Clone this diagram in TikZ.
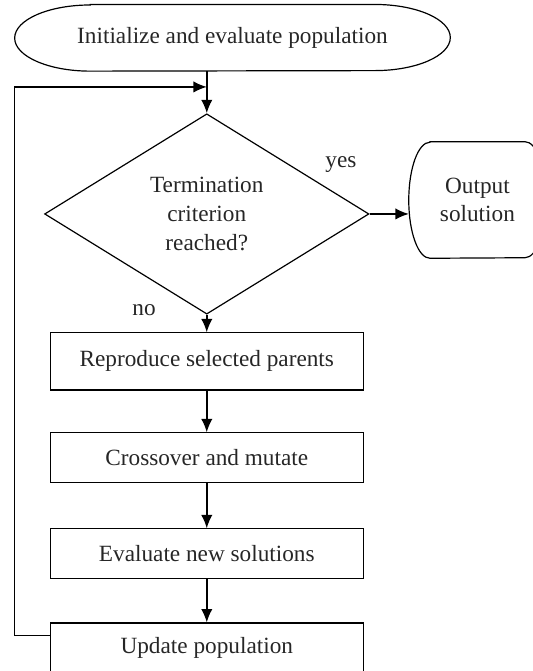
\documentclass[tikz,border=0pt]{standalone}
\usepackage{fontspec}
\setmainfont{Liberation Serif}
\usetikzlibrary{shapes.geometric,arrows.meta}

\tikzset{
  stepbox/.style={draw, line width=0.9pt, minimum width=8.28cm, minimum height=1.32cm, inner sep=0pt},
  flow/.style={line width=1.1pt, -{Latex[length=10pt,width=8.5pt]}},
}

\begin{document}
\begin{tikzpicture}[font=\fontsize{17.5}{21.5}\selectfont, text=black!85]
  \useasboundingbox (0,0) rectangle (14.08,17.75);

  \node[inner sep=0pt, minimum width=11.51cm, minimum height=1.75cm] (init) at (6.15,16.75) {Initialize and evaluate population};
  \draw[line width=0.9pt] ([xshift=2cm]init.north west) -- ([xshift=-2cm]init.north east)
    arc[start angle=90, end angle=-90, x radius=2cm, y radius=0.875cm] -- ([xshift=2cm]init.south west)
    arc[start angle=270, end angle=90, x radius=2cm, y radius=0.875cm] -- cycle;

  \node[draw, diamond, line width=0.9pt, minimum width=8.58cm, minimum height=5.3cm, inner sep=0pt, align=center] (test) at (5.47,12.09) {Termination\\criterion\\reached?};

  \node[inner sep=0pt, minimum width=3.62cm, minimum height=3.07cm, align=center] (out) at (12.63,12.46) {Output\\solution};
  \draw[line width=0.9pt] ([xshift=0.56cm]out.north west) -- ([xshift=-0.56cm]out.north east)
    arc[start angle=90, end angle=-90, x radius=0.56cm, y radius=1.535cm] -- ([xshift=0.56cm]out.south west)
    arc[start angle=270, end angle=90, x radius=0.56cm, y radius=1.535cm] -- cycle;

  \node[stepbox, minimum height=1.51cm] (repro) at (5.47,8.19) {Reproduce selected parents};
  \node[stepbox] (cross) at (5.47,5.64) {Crossover and mutate};
  \node[stepbox] (eval) at (5.47,3.10) {Evaluate new solutions};
  \node[stepbox] (update) at (5.47,0.61) {Update population};

  \node (yes) at (9.02,13.39) {yes};
  \node (no) at (3.81,9.55) {no};

  \coordinate (merge) at (5.47,15.45);
  \draw[flow] (init.south -| test.north) -- (test.north);
  \draw[flow] (test.east) -- (out.west |- test.east);
  \draw[flow] (test.south) -- (repro.north);
  \draw[flow] (repro.south) -- (cross.north);
  \draw[flow] (cross.south) -- (eval.north);
  \draw[flow] (eval.south) -- (update.north);
  \draw[flow] ([yshift=-0.34cm]update.north west) -- ++(-0.93,0) |- (merge);
\end{tikzpicture}
\end{document}
